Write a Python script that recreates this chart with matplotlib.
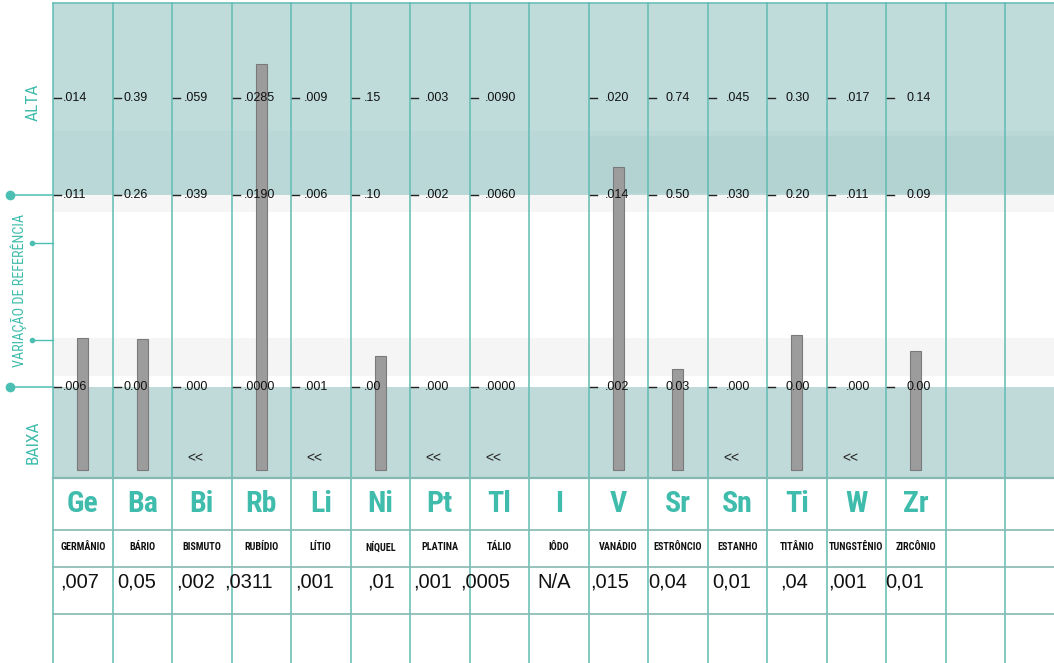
import numpy as np
import matplotlib
matplotlib.use('Agg')
import matplotlib.pyplot as plt
from matplotlib import font_manager

# hair mineral test sheet - toxic / extra elements page

SYMBOLS = ['Ge', 'Ba', 'Bi', 'Rb', 'Li', 'Ni', 'Pt', 'Tl', 'I', 'V', 'Sr', 'Sn', 'Ti', 'W', 'Zr']
NAMES = ['GERMÂNIO', 'BÁRIO', 'BISMUTO', 'RUBÍDIO', 'LÍTIO', 'NÍQUEL', 'PLATINA', 'TÁLIO', 'IÔDO',
         'VANÁDIO', 'ESTRÔNCIO', 'ESTANHO', 'TITÂNIO', 'TUNGSTÊNIO', 'ZIRCÔNIO']
RESULTS = [',007', '0,05', ',002', ',0311', ',001', ',01', ',001', ',0005', 'N/A',
           ',015', '0,04', '0,01', ',04', ',001', '0,01']
HIGH = ['.014', '0.39', '.059', '.0285', '.009', '.15', '.003', '.0090', '',
        '.020', '0.74', '.045', '0.30', '.017', '0.14']
REF_HIGH = ['.011', '0.26', '.039', '.0190', '.006', '.10', '.002', '.0060', '',
            '.014', '0.50', '.030', '0.20', '.011', '0.09']
REF_LOW = ['.006', '0.00', '.000', '.0000', '.001', '.00', '.000', '.0000', '',
           '.002', '0.03', '.000', '0.00', '.000', '0.00']
# bar top on the sheet's 0-100 scale (nan = no bar drawn)
nan = np.nan
LEVEL = [29.5, 29.3, nan, 87.2, nan, 25.7, nan, nan, nan, 65.5, 23.0, nan, 30.1, nan, 26.7]
# "<<" = below detection
BELOW = [False, False, True, False, True, False, True, True, False, False, False, True, False, True, False]

Y_HIGH = 80.0
Y_REF_HI = 59.6
Y_REF_LO = 19.2
BAR_BASE = 1.7

# layout (pixels -> data units)
PXX = 1 / 59.5
PXY = 1 / 4.75
VALUE_NUDGE = [7, 4.5, 4, -7.5, 4, 16.5, 3, -9.5, 8, 1.5, 0, 5, 13, 1.5, -1]
N_COLS = 17

# look for some condensed face
ttf = font_manager.fontManager.ttflist
names = {f.name for f in ttf}
NARROW = None
for cand in ['Liberation Sans Narrow', 'Roboto Condensed', 'Open Sans Condensed',
             'DejaVu Sans Condensed', 'Noto Sans Condensed']:
    if cand in names:
        NARROW = dict(family=cand)
        break
if NARROW is None:
    cond = [f for f in ttf if str(f.stretch) in ('condensed', 'semi-condensed', 'extra-condensed')]
    if cond:
        NARROW = dict(family=cond[0].name, fontstretch=cond[0].stretch)
    else:
        NARROW = dict(family='DejaVu Sans')
ARIAL = 'Liberation Sans'

TEAL = '#4cbfb3'
TEAL_TXT = '#3fbcac'
GRID = '#5fbcb2'
ROWLINE = '#86b8b2'
SHADE = '#bfdcdb'

fig = plt.figure(figsize=(10.54, 6.63), dpi=100)
ax = fig.add_axes([0, 0, 1, 1])
x_left = -53 * PXX
x_right = (1054 - 53) * PXX
ax.set_xlim(x_left, x_right)
ax.set_ylim(-185 * PXY, 100 + 3 * PXY)
ax.axis('off')

# background bands
ax.fill_between([0, x_right], Y_REF_HI, 100, color=SHADE, lw=0, zorder=0)
ax.fill_between([0, x_right], Y_REF_HI, 73.0, color='#b9d8d7', lw=0, zorder=0)
ax.fill_between([9, x_right], Y_REF_HI + 0.3, 72.0, color='#b2d3d2', lw=0, zorder=0)
ax.fill_between([0, x_right], 0, Y_REF_LO, color='#bfdad9', lw=0, zorder=0)
ax.fill_between([0, x_right], 21.5, 29.5, color='#f5f5f5', lw=0, zorder=0)
ax.fill_between([0, x_right], 56.0, Y_REF_HI, color='#f6f6f6', lw=0, zorder=0)

# grid
for c in range(N_COLS):
    ax.plot([c, c], [ax.get_ylim()[0], 100], color=GRID, lw=1.1, zorder=1)
ax.plot([0, x_right], [100, 100], color=GRID, lw=1.1, zorder=1)
ax.plot([0, x_right], [0, 0], color=ROWLINE, lw=1.6, zorder=1)
for yy in [-52 * PXY, -89 * PXY, -136 * PXY]:
    ax.plot([0, x_right], [yy, yy], color=ROWLINE, lw=1.2, zorder=1)

# left scale labels
ax.plot([-43 * PXX, 0], [Y_REF_HI, Y_REF_HI], color=TEAL, lw=1.1, zorder=2)
ax.plot([-43 * PXX, 0], [Y_REF_LO, Y_REF_LO], color=TEAL, lw=1.1, zorder=2)
ax.plot([-43 * PXX] * 2, [Y_REF_HI, Y_REF_LO], 'o', color=TEAL, ms=6, zorder=3)
for yy in [49.5, 29.0]:
    ax.plot([-21 * PXX, 0], [yy, yy], color=TEAL, lw=1.0, zorder=2)
    ax.plot(-21 * PXX, yy, 'o', color=TEAL, ms=3, zorder=3)
ax.text(-20 * PXX, 79.2, 'ALTA', rotation=90, ha='center', va='center',
        color=TEAL_TXT, fontsize=12.5, **NARROW)
ax.text(-20 * PXX, 7.6, 'BAIXA', rotation=90, ha='center', va='center',
        color=TEAL_TXT, fontsize=12.5, **NARROW)
ax.text(-34 * PXX, 39.5, 'VARIAÇÃO DE REFERÊNCIA', rotation=90, ha='center', va='center',
        color=TEAL_TXT, fontsize=10.2, **NARROW)

# bars
xs = np.arange(len(SYMBOLS)) + 0.5
lv = np.array(LEVEL)
ax.bar(xs, lv - BAR_BASE, bottom=BAR_BASE, width=11 * PXX, color='#9c9c9c',
       edgecolor='#7a7a7a', linewidth=0.8, zorder=4)

for i in range(len(SYMBOLS)):
    if BELOW[i]:
        ax.text(xs[i] - 6 * PXX, 20 * PXY, '<<', ha='center', va='center',
                fontsize=10, family=ARIAL, color='#222222', zorder=5)
    off = (10 + 0.75 * i) * PXX
    for yy, lab in [(Y_HIGH, HIGH[i]), (Y_REF_HI, REF_HIGH[i]), (Y_REF_LO, REF_LOW[i])]:
        if not lab:
            continue
        ax.plot([i + 1 * PXX, i + 8 * PXX], [yy, yy], color='#222222', lw=1.0, zorder=5)
        ax.text(i + off, yy, lab, ha='left', va='center', fontsize=9,
                family=ARIAL, color='#111111', zorder=6)

# table rows
for i in range(len(SYMBOLS)):
    ax.text(xs[i], -26 * PXY, SYMBOLS[i], ha='center', va='center', fontsize=21.5,
            fontweight=900, color=TEAL_TXT, **NARROW)
    ax.text(xs[i], -69 * PXY, NAMES[i], ha='center', va='center', fontsize=7.3,
            fontweight=900, color='#111111', **NARROW)
    ax.text(i + VALUE_NUDGE[i] * PXX, -104 * PXY, RESULTS[i], ha='left', va='center',
            fontsize=14.5, family=ARIAL, color='#111111')

fig.savefig('out.png', dpi=100)
